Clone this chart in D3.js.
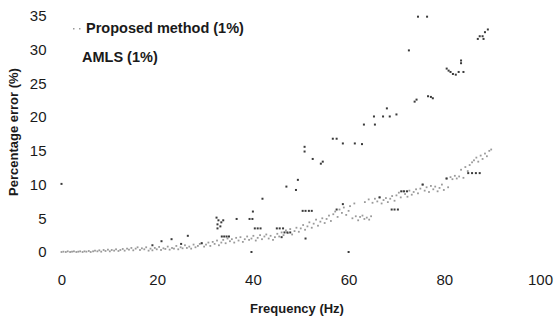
<!DOCTYPE html>
<html>
<head>
<meta charset="utf-8">
<script src="https://cdn.jsdelivr.net/npm/d3@7"></script>
<style>
  body { margin: 0; background: #fff; }
  text { font-family: "Liberation Sans", Arial, sans-serif; fill: #1a1a1a; }
</style>
</head>
<body>
<div id="chart"></div>
<script>
// axis ticks
var xTicks = [0, 20, 40, 60, 80, 100];
var yTicks = [0, 5, 10, 15, 20, 25, 30, 35];

// series names
var seriesNames = ["Proposed method (1%)", "AMLS (1%)"];

// Proposed method (1%): [frequency Hz, percentage error]
var proposedPts = [
  [0.0,0.0],[0.4,0.05],[0.9,0.0],[1.3,0.1],[1.8,0.0],[2.2,0.05],[2.6,0.1],[3.1,0.0],[3.5,0.05],[3.9,0.1],
  [4.4,0.0],[4.8,0.1],[5.2,0.05],[5.7,0.15],[6.1,0.0],[6.6,0.1],[7.0,0.2],[7.5,0.1],[7.9,0.25],[8.3,0.05],
  [8.8,0.3],[9.2,0.15],[9.7,0.35],[10.1,0.1],[10.5,0.3],[11.0,0.2],[11.4,0.4],[11.9,0.15],[12.3,0.3],[12.8,0.45],
  [13.2,0.2],[13.7,0.5],[14.1,0.35],[14.6,0.6],[15.0,0.25],[15.5,0.5],[15.9,0.7],[16.4,0.3],[16.8,0.55],[17.3,0.4],
  [17.7,0.7],[18.2,0.2],[18.6,0.5],[19.0,0.25],[19.5,0.6],[19.9,0.4],[20.4,0.75],[20.8,0.3],[21.3,0.55],[21.7,0.45],
  [22.2,0.8],[22.6,0.35],[23.1,0.6],[23.5,0.5],[24.0,0.9],[24.4,0.4],[24.9,0.7],[25.3,0.55],[25.8,1.0],[26.2,0.6],
  [26.7,0.8],[27.1,0.5],[27.6,1.1],[28.0,0.7],[28.5,0.9],[28.9,1.2],[29.3,1.3],[29.8,0.8],[30.2,1.1],[30.7,1.4],
  [31.1,0.9],[31.6,1.5],[32.0,1.2],[32.5,1.7],[32.9,1.0],[33.4,1.4],[33.8,1.8],[34.3,1.3],[34.7,2.0],[35.2,1.6],
  [35.6,1.9],[36.1,1.4],[36.5,2.1],[37.0,1.7],[37.4,2.2],[37.9,1.5],[38.3,1.9],[38.8,2.3],[39.2,1.8],[39.7,2.0],
  [40.1,2.4],[40.6,1.7],[41.0,2.1],[41.5,2.5],[41.9,1.9],[42.4,2.3],[42.8,2.6],[43.3,2.0],[43.7,2.4],[44.2,1.8],
  [44.6,2.2],[45.1,2.7],[45.5,2.3],[46.0,2.9],[46.4,2.5],[46.9,3.2],[47.3,2.8],[47.8,3.4],[48.2,2.6],[48.7,3.1],
  [49.1,3.6],[49.6,3.0],[50.0,3.5],[50.5,4.0],[50.9,3.3],[51.4,3.8],[51.8,4.4],[52.3,3.6],[52.7,4.2],[53.2,4.8],
  [53.6,3.9],[54.1,4.5],[54.5,5.0],[55.0,4.3],[55.4,4.9],[55.9,5.4],[56.3,4.6],[56.8,5.6],[57.2,6.0],[57.7,5.2],
  [58.1,6.3],[58.6,5.8],[59.0,6.6],[59.5,5.5],[60.0,6.1],[60.3,6.8],[60.8,5.0],[61.2,7.2],[61.5,5.3],[62.0,4.7],
  [62.4,5.2],[62.9,5.4],[63.3,4.9],[63.4,7.4],[63.8,5.1],[64.2,7.8],[64.3,4.8],[64.7,5.3],[65.0,7.3],[65.5,7.9],
  [66.0,7.5],[66.4,8.1],[66.9,7.2],[67.3,7.7],[67.8,8.0],[68.2,7.4],[68.7,7.9],[69.1,8.3],[69.6,7.6],[70.0,8.4],
  [70.5,8.8],[70.9,8.1],[71.4,9.0],[71.8,8.6],[72.3,8.2],[72.7,9.1],[73.2,8.5],[73.6,8.9],[74.1,9.3],[74.5,8.7],
  [75.0,9.4],[75.4,10.0],[75.9,9.1],[76.3,9.6],[76.8,8.9],[77.2,9.8],[77.7,9.3],[78.1,9.7],[78.6,9.0],[79.0,9.5],
  [79.5,10.0],[79.9,9.2],[80.4,10.9],[80.8,9.6],[81.3,11.1],[81.7,10.8],[82.2,11.3],[82.6,10.9],[83.1,11.2],[83.5,12.2],
  [84.0,11.0],[84.4,12.6],[84.9,12.0],[85.3,12.9],[85.8,13.3],[86.2,13.6],[86.7,14.0],[87.1,13.4],[87.6,14.3],[88.0,13.8],
  [88.5,14.6],[88.9,14.2],[89.4,15.0],[89.8,15.2]
];

// AMLS (1%)
var amlsPts = [
  [0.0,10.1],[19.0,1.0],[20.9,1.6],[23.0,1.9],[25.0,1.2],[26.4,2.4],[29.3,1.3],
  [32.4,5.1],[32.8,4.7],[33.4,4.4],[32.6,4.1],[33.2,3.8],[32.6,3.5],[33.8,4.7],
  [33.5,2.3],[34.0,2.3],[34.5,2.3],[35.0,2.3],
  [36.6,4.9],[39.3,4.9],[39.9,4.9],[40.0,6.0],[42.0,7.9],[39.7,0.0],
  [40.4,3.5],[41.0,3.5],[41.6,3.5],[45.0,3.5],[45.6,3.5],[46.3,3.5],[46.6,2.9],[47.2,2.9],[47.8,2.9],
  [46.0,2.2],[51.0,2.0],[47.0,9.7],[49.0,9.2],[49.4,10.7],
  [50.4,6.1],[51.0,6.1],[51.7,6.1],[52.3,6.1],[57.5,6.3],[58.8,7.1],
  [50.8,15.6],[50.8,14.9],[52.5,13.8],[54.2,13.1],[54.6,13.4],
  [56.7,16.8],[57.5,16.8],[58.8,16.1],[61.3,16.1],[62.8,16.0],[60.0,0.0],
  [63.2,18.9],[65.5,18.9],[65.3,20.1],[67.2,20.1],[68.6,20.1],[70.0,20.4],[68.0,21.3],
  [66.5,8.1],[69.0,6.3],[69.6,6.3],[70.3,6.3],[71.0,9.0],[71.6,9.0],[72.2,9.0],[75.5,10.0],[80.5,10.9],
  [85.0,11.7],[85.8,11.7],[86.6,11.7],[87.4,11.7],
  [72.6,29.9],[73.8,22.3],[74.2,22.6],[76.6,23.1],[77.2,23.0],[77.6,22.8],
  [74.5,34.9],[76.4,34.9],
  [80.5,27.2],[80.9,26.9],[81.3,26.7],[81.8,26.4],[82.4,26.3],[83.0,26.7],[84.0,26.7],
  [83.5,28.4],[83.5,28.0],
  [87.0,31.6],[88.2,31.6],[87.4,32.0],[88.0,32.0],[88.5,32.6],[89.1,33.0]
];

var width = 556, height = 322;

var svg = d3.select("#chart").append("svg")
    .attr("width", width)
    .attr("height", height);

var x = d3.scaleLinear().domain([0, 100]).range([61.5, 540]);
var y = d3.scaleLinear().domain([0, 35]).range([252, 16]);

// axes without lines, just labels
var xAxis = svg.append("g")
    .attr("transform", "translate(0," + y(0) + ")")
    .call(d3.axisBottom(x).tickValues(xTicks).tickSize(0).tickPadding(22));
xAxis.select(".domain").remove();

var yAxis = svg.append("g")
    .attr("transform", "translate(" + x(0) + ",0)")
    .call(d3.axisLeft(y).tickValues(yTicks).tickSize(0).tickPadding(15));
yAxis.select(".domain").remove();

svg.selectAll(".tick text")
    .style("font-size", "15px")
    .style("fill", "#1a1a1a");

// points
svg.append("g").selectAll("rect")
    .data(proposedPts)
    .join("rect")
    .attr("x", d => x(d[0]) - 0.9)
    .attr("y", d => y(d[1]) - 0.9)
    .attr("width", 1.8)
    .attr("height", 1.8)
    .attr("fill", "#9a9a9a");

svg.append("g").selectAll("rect")
    .data(amlsPts)
    .join("rect")
    .attr("x", d => x(d[0]) - 1)
    .attr("y", d => y(d[1]) - 1)
    .attr("width", 2)
    .attr("height", 2)
    .attr("fill", "#3a3a3a");

// legend
var legend = svg.append("g");
legend.selectAll("rect")
    .data([73, 79])
    .join("rect")
    .attr("x", d => d)
    .attr("y", 28)
    .attr("width", 1.5)
    .attr("height", 1.5)
    .attr("fill", "#9a9a9a");

legend.append("text")
    .attr("x", 86).attr("y", 33)
    .style("font-size", "14.5px").style("font-weight", "bold")
    .text(seriesNames[0]);

legend.append("text")
    .attr("x", 82).attr("y", 62)
    .style("font-size", "14.5px").style("font-weight", "bold")
    .text(seriesNames[1]);

// axis titles
svg.append("text")
    .attr("x", 297).attr("y", 313)
    .attr("text-anchor", "middle")
    .style("font-size", "13px").style("font-weight", "bold")
    .text("Frequency (Hz)");

svg.append("text")
    .attr("transform", "translate(18,132) rotate(-90)")
    .attr("text-anchor", "middle")
    .style("font-size", "13px").style("font-weight", "bold")
    .text("Percentage error (%)");
</script>
</body>
</html>
